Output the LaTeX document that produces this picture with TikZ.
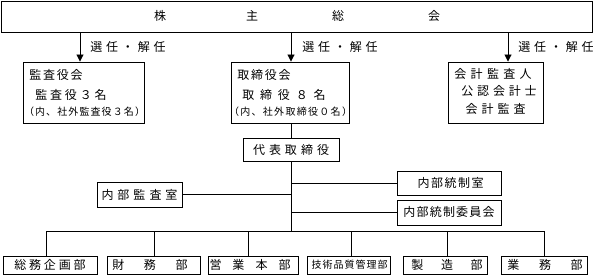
\documentclass[tikz,border=0pt]{standalone}
\usepackage{fontspec}
\setmainfont{Noto Sans CJK JP}
\usetikzlibrary{arrows.meta,fit}
\makeatletter
\newcommand\spaced[2]{\def\sp@k{\kern#1}\sp@first#2\@nil}
\def\sp@first#1{#1\sp@next}
\def\sp@next#1{\ifx#1\@nil\else\sp@k#1\expandafter\sp@next\fi}
\makeatother
\begin{document}
\begin{tikzpicture}[x=1pt,y=-1pt,
  box/.style={draw, line width=0.9pt, inner sep=0pt},
  lbl/.style={inner sep=0pt, font=\fontsize{12}{14}\selectfont},
  small/.style={inner sep=0pt, font=\fontsize{10}{12}\selectfont},
  conn/.style={line width=0.9pt},
  arr/.style={conn,-{Triangle[length=7pt,width=7pt]}}]
\useasboundingbox (0,0) rectangle (593,275);
% boxes
\node[box, fit={(1,1)(592,32)}] (gm) {};
\node[box, fit={(23,62)(144,123)}] (kansa) {};
\node[box, fit={(231,62)(349,123)}] (tori) {};
\node[box, fit={(448,62)(543,123)}] (kaikei) {};
\node[box, fit={(243,138)(339,161)}] (daihyo) {};
\node[box, fit={(97,182)(182,207)}] (naibu) {};
\node[box, fit={(397,171)(501,195)}] (tosei) {};
\node[box, fit={(397,200)(501,225)}] (iin) {};
\node[box, fit={(3,256)(97,274)}] (b1) {};
\node[box, fit={(107,256)(200,274)}] (b2) {};
\node[box, fit={(208,256)(298,274)}] (b3) {};
\node[box, fit={(307,256)(390,274)}] (b4) {};
\node[box, fit={(403,256)(487,274)}] (b5) {};
\node[box, fit={(501,256)(587,274)}] (b6) {};
% texts
\node[lbl] (t1) at (160,16) {株};
\node[lbl] (t2) at (252,16) {主};
\node[lbl] (t3) at (338,16) {総};
\node[lbl] (t4) at (434,16) {会};
\node[lbl] (s1) at (128,47) {\spaced{3.8pt}{選任・解任}};
\node[lbl] (s2) at (340,47) {\spaced{3.8pt}{選任・解任}};
\node[lbl] (s3) at (556,47) {\spaced{3.8pt}{選任・解任}};
\node[lbl] (k1) at (56,75) {\spaced{1.7pt}{監査役会}};
\node[lbl] (k2) at (71,95) {\spaced{2.8pt}{監査役３名}};
\node[small] (k3) at (84.5,112) {\spaced{1.1pt}{（内、社外監査役３名）}};
\node[lbl] (r1) at (264,75) {\spaced{1.7pt}{取締役会}};
\node[lbl] (r2) at (284,95) {\spaced{5.8pt}{取締役８名}};
\node[small] (r3) at (290.5,112) {\spaced{1.3pt}{（内、社外取締役０名）}};
\node[lbl] (c1) at (493,74) {\spaced{4.3pt}{会計監査人}};
\node[lbl] (c2) at (499,91) {\spaced{3.8pt}{公認会計士}};
\node[lbl] (c3) at (495.5,109) {\spaced{4pt}{会計監査}};
\node[lbl] (dt) at (291,150) {\spaced{4pt}{代表取締役}};
\node[lbl] (nt) at (139.5,195) {\spaced{4pt}{内部監査室}};
\node[lbl] (tt) at (450.5,183) {\spaced{1.5pt}{内部統制室}};
\node[lbl] (it) at (449,212) {\spaced{1.2pt}{内部統制委員会}};
\node[lbl] (bt1) at (50,265) {\spaced{2.8pt}{総務企画部}};
\node[lbl] (bt2) at (150,265) {\spaced{19.6pt}{財務部}};
\node[lbl] (bt3) at (250,265) {\spaced{11pt}{営業本部}};
\node[small] (bt4) at (349.5,265) {\spaced{1pt}{技術品質管理部}};
\node[lbl] (bt5) at (447,265) {\spaced{17.6pt}{製造部}};
\node[lbl] (bt6) at (545,265) {\spaced{19.6pt}{業務部}};
% helper coordinates
\coordinate (xa) at (80,0);
\coordinate (xb) at (291,0);
\coordinate (xc) at (508,0);
\coordinate (bus) at (0,231);
\coordinate (y1) at (0,183);
\coordinate (y2) at (0,212);
\coordinate (d1) at (46,0);
\coordinate (d2) at (154,0);
\coordinate (d3) at (248,0);
\coordinate (d4) at (351,0);
\coordinate (d5) at (447,0);
\coordinate (d6) at (544,0);
% connectors
\draw[arr] (gm.south -| xa) -- (kansa.north -| xa);
\draw[arr] (gm.south -| xb) -- (tori.north -| xb);
\draw[arr] (gm.south -| xc) -- (kaikei.north -| xc);
\draw[conn] (tori.south -| xb) -- (daihyo.north -| xb);
\draw[conn] (daihyo.south -| xb) -- (bus -| xb);
\draw[conn] (naibu.east) -- (naibu.east -| xb);
\draw[conn] (y1 -| xb) -- (y1 -| tosei.west);
\draw[conn] (y2 -| xb) -- (y2 -| iin.west);
\draw[conn] (bus -| d1) -- (bus -| d6);
\draw[conn] (bus -| d1) -- (b1.north -| d1);
\draw[conn] (bus -| d2) -- (b2.north -| d2);
\draw[conn] (bus -| d3) -- (b3.north -| d3);
\draw[conn] (bus -| d4) -- (b4.north -| d4);
\draw[conn] (bus -| d5) -- (b5.north -| d5);
\draw[conn] (bus -| d6) -- (b6.north -| d6);
\end{tikzpicture}
\end{document}
